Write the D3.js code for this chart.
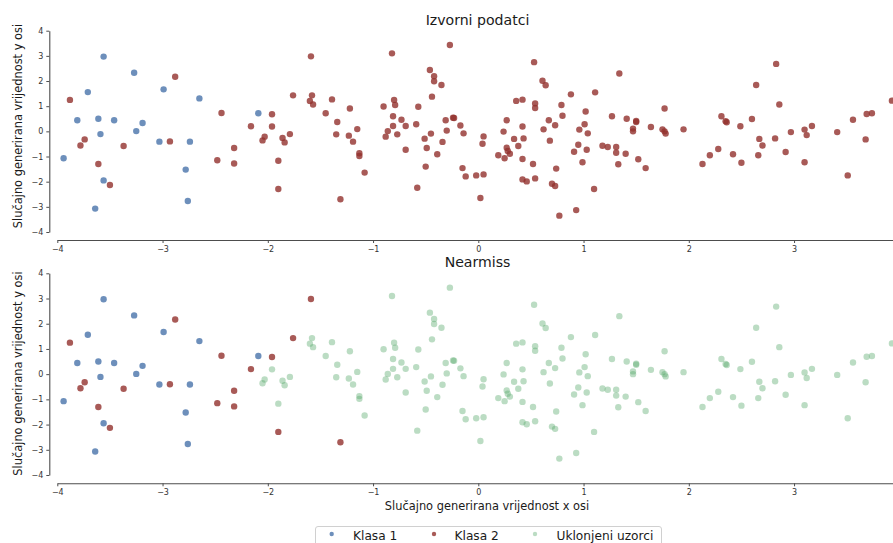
<!DOCTYPE html>
<html><head><meta charset="utf-8">
<script src="https://cdn.jsdelivr.net/npm/d3@7"></script>
<style>body{margin:0;background:#fff;overflow:hidden} svg{display:block} text{font-family:"DejaVu Sans",sans-serif}</style>
</head><body><svg id="c" width="893" height="543"></svg>
<script>
// ---- data ----
const xTicks = [-4, -3, -2, -1, 0, 1, 2, 3];
const yTicks = [-4, -3, -2, -1, 0, 1, 2, 3, 4];
const titles = ["Izvorni podatci", "Nearmiss"];
const legendLabels = ["Klasa 1", "Klasa 2", "Uklonjeni uzorci"];

const klasa1X = [-3.94,-3.81,-3.71,-3.61,-3.59,-3.56,-3.56,-3.64,-3.46,-3.27,-3.25,-3.19,-3.03,-2.99,-2.78,-2.76,-2.74,-2.65,-2.09];
const klasa1Y = [-1.07,0.44,1.56,0.50,-0.11,2.97,-1.95,-3.07,0.44,2.33,0.01,0.33,-0.41,1.67,-1.52,-2.77,-0.41,1.31,0.72];

// Klasa 2 points kept by Nearmiss
const klasa2ZadrzaniX = [-3.88,-3.78,-3.74,-3.61,-3.50,-3.37,-2.93,-2.88,-2.48,-2.44,-2.32,-2.32,-2.16,-1.96,-1.90,-1.76,-1.59,-1.31];
const klasa2ZadrzaniY = [1.25,-0.56,-0.32,-1.30,-2.13,-0.58,-0.40,2.17,-1.15,0.73,-0.66,-1.28,0.20,0.68,-2.29,1.43,2.98,-2.70];

// Klasa 2 points removed by Nearmiss
const uklonjeniX = [
 -2.05,-2.03,-1.96,-1.90,-1.86,-1.84,-1.79,
 -1.58,-1.60,-1.57,-1.45,-1.39,-1.34,-1.35,-1.22,-1.23,-1.19,-1.15,-1.13,-1.13,-1.08,
 -0.90,-0.82,-0.80,-0.79,-0.81,-0.86,-0.88,-0.81,-0.77,-0.73,-0.69,-0.69,-0.59,-0.57,-0.58,-0.51,-0.49,-0.50,-0.46,-0.45,-0.44,-0.42,-0.42,-0.39,-0.35,-0.34,-0.31,-0.30,-0.27,-0.24,-0.23,-0.17,-0.14,-0.15,-0.12,-0.02,
 0.02,0.04,0.05,0.05,0.19,0.24,0.25,0.27,0.27,0.28,0.30,0.34,0.36,0.38,0.42,0.42,0.43,0.42,0.42,0.46,0.52,0.53,0.54,0.54,0.54,0.61,0.64,0.62,0.67,0.68,0.70,0.73,0.73,0.74,0.77,0.79,0.80,0.88,0.91,0.93,0.95,0.96,0.99,1.01,1.02,1.03,1.04,1.10,1.11,
 1.18,1.23,1.27,1.31,1.31,1.33,1.34,1.40,1.41,1.47,1.47,1.50,1.50,1.52,1.59,1.64,1.75,1.77,1.77,1.78,1.95,2.13,2.20,2.28,2.31,2.35,2.36,2.42,2.49,2.50,2.60,2.64,2.66,2.67,2.70,2.82,2.83,2.86,2.92,2.97,3.10,3.10,3.12,3.17,3.41,3.51,3.56,3.68,3.69,3.74,3.93];
const uklonjeniY = [
 -0.36,-0.21,0.19,-1.17,-0.26,-0.44,-0.11,
 1.43,1.21,1.07,0.72,1.27,0.37,-0.12,0.91,-0.17,-0.41,0.09,-0.87,-0.98,-1.64,
 0.99,3.10,1.25,1.05,0.60,0.01,-0.21,0.21,-0.12,0.46,0.21,-0.73,0.28,0.98,-2.24,-0.29,-0.66,-1.40,2.44,-0.09,1.38,2.19,1.99,-0.91,1.84,-0.42,0.44,0.03,3.43,0.54,0.53,0.23,-0.08,-1.46,-1.79,-1.75,
 -2.65,-0.49,-0.20,-1.71,-0.95,-0.01,-1.07,0.44,-0.65,-0.78,-0.89,-0.30,1.21,-0.58,1.26,0.19,-0.28,-1.10,-1.91,-1.99,-1.30,2.75,1.11,0.93,-1.87,2.01,1.83,0.08,0.44,-0.37,-2.08,0.24,-2.17,-1.48,-3.35,1.05,0.62,1.47,-0.81,-3.13,-0.53,0.07,-1.23,0.28,0.79,-0.73,-0.08,-2.29,1.55,
 -0.57,-0.62,0.60,-0.62,-0.85,-1.31,2.30,-0.89,0.50,0.11,0.00,0.37,0.41,-1.11,-1.46,0.17,0.08,0.91,0.00,-0.09,0.08,-1.30,-0.95,-0.70,0.60,0.40,0.36,-0.91,0.20,-1.25,0.49,1.84,-0.95,-0.30,-0.56,-0.28,2.68,1.07,-0.82,-0.03,0.07,-1.23,-0.15,0.21,-0.03,-1.75,0.46,-0.32,0.69,0.72,1.22];

// ---- drawing ----
const C1 = "#4873aa", C2 = "#92312d", CG = "#55A868";
const svg = d3.select("#c");
const x = d3.scaleLinear().domain([-4, 4]).range([57.3, 899.3]);
const panels = [
  {y: d3.scaleLinear().domain([-4, 4]).range([232, 30.7]), xAxisY: 240, titleY: 25, labelCY: 126},
  {y: d3.scaleLinear().domain([-4, 4]).range([475, 273.3]), xAxisY: 483.3, titleY: 267, labelCY: 373.5}
];
const fmt = d => d < 0 ? "\u2212" + Math.abs(d) : String(d);
const zip = (xs, ys) => xs.map((v, i) => [v, ys[i]]);
const klasa1 = zip(klasa1X, klasa1Y);
const zadrzani = zip(klasa2ZadrzaniX, klasa2ZadrzaniY);
const uklonjeni = zip(uklonjeniX, uklonjeniY);
const klasa2Sve = zadrzani.concat(uklonjeni);

function styleAxis(g) {
  g.selectAll(".domain").attr("stroke", "#4d4d4d").attr("stroke-width", 1.1);
  g.selectAll(".tick line").attr("stroke", "#4d4d4d");
  g.selectAll(".tick text").attr("fill", "#333").attr("font-size", 8).attr("font-family", "DejaVu Sans");
}

panels.forEach((p, i) => {
  const g = svg.append("g");
  const ya = g.append("g").attr("transform", "translate(49.3,0)")
    .call(d3.axisLeft(p.y).tickValues(yTicks).tickSize(3).tickSizeOuter(0).tickPadding(3).tickFormat(fmt));
  styleAxis(ya);
  const xa = g.append("g").attr("transform", `translate(0,${p.xAxisY})`)
    .call(d3.axisBottom(x).tickValues(xTicks).tickSize(3).tickSizeOuter(0).tickPadding(3).tickFormat(fmt));
  styleAxis(xa);

  g.append("text").attr("x", 477.5).attr("y", p.titleY).attr("text-anchor", "middle")
    .attr("font-size", 14.1).attr("fill", "#1a1a1a").text(titles[i]);
  g.append("text").attr("transform", `translate(21.6,${p.labelCY}) rotate(-90)`).attr("text-anchor", "middle")
    .attr("font-size", 11.4).attr("fill", "#1a1a1a").text("Slučajno generirana vrijednost y osi");

  const dots = (data, color, op) => g.append("g").selectAll("circle").data(data).join("circle")
    .attr("cx", d => x(d[0])).attr("cy", d => p.y(d[1])).attr("r", 3.2)
    .attr("fill", color).attr("fill-opacity", op);

  if (i === 0) {
    dots(klasa1, C1, 0.8);
    dots(klasa2Sve, C2, 0.8);
  } else {
    dots(klasa1, C1, 0.8);
    dots(zadrzani, C2, 0.8);
    dots(uklonjeni, CG, 0.4);
  }
});

svg.append("text").attr("x", 487).attr("y", 510).attr("text-anchor", "middle")
  .attr("font-size", 11.4).attr("fill", "#1a1a1a").text("Slučajno generirana vrijednost x osi");

// legend
const lg = svg.append("g");
lg.append("rect").attr("x", 315.5).attr("y", 526.5).attr("width", 346).attr("height", 30).attr("rx", 2.5)
  .attr("fill", "#fff").attr("stroke", "#d0d0d0").attr("stroke-width", 1);
const legItems = [
  {label: legendLabels[0], color: C1, op: 0.8, dx: 331.7, tx: 353},
  {label: legendLabels[1], color: C2, op: 0.8, dx: 434, tx: 454.5},
  {label: legendLabels[2], color: CG, op: 0.4, dx: 535, tx: 556.5}
];
legItems.forEach(it => {
  lg.append("circle").attr("cx", it.dx).attr("cy", 534).attr("r", 2.2).attr("fill", it.color).attr("fill-opacity", it.op);
  lg.append("text").attr("x", it.tx).attr("y", 539.5).attr("font-size", 12.2).attr("fill", "#1a1a1a").text(it.label);
});
</script></body></html>
